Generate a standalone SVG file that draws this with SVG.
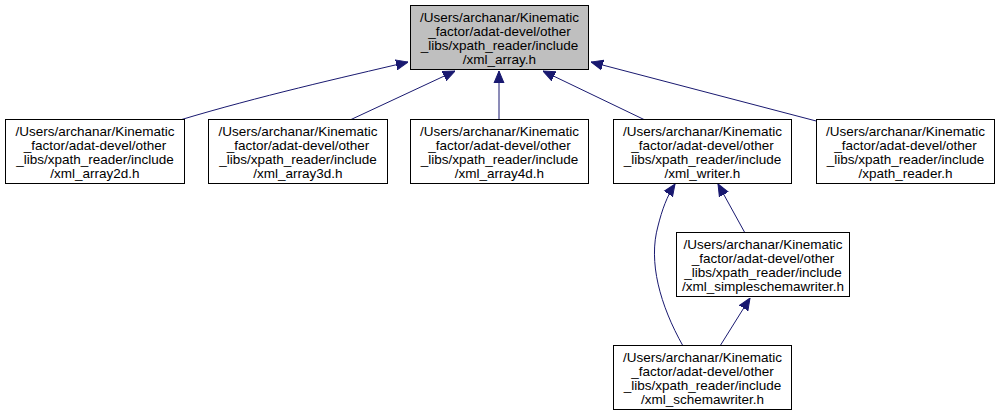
<svg xmlns="http://www.w3.org/2000/svg" width="1000" height="416" viewBox="0 0 1000 416">
<defs>
<marker id="ah" viewBox="0 0 12 12" refX="12" refY="6" markerWidth="12" markerHeight="12" markerUnits="userSpaceOnUse" orient="auto">
<path d="M0,1 L12,6 L0,11 Z" fill="#191970" stroke="#191970"/>
</marker>
<style>
.n rect{fill:#fff;stroke:#000;stroke-width:1}
.n.root rect{fill:#bfbfbf}
.n text{font-family:"Liberation Sans",Arial,sans-serif;font-size:13.5px;text-anchor:middle;fill:#000}
.e path{fill:none;stroke:#191970;stroke-width:1;marker-end:url(#ah)}
</style>
</defs>
<rect width="1000" height="416" fill="#fff"/>
<g class="e" id="edges">
<path d="M180,120 C260,96 340,78 408,62"/>
<path d="M350,120 L455,71"/>
<path d="M499,120 L499,71"/>
<path d="M645,120 L543,71"/>
<path d="M820,122 L591,62"/>
<path d="M745,233 L718,184"/>
<path d="M683,346 C660,305 648,262 658,226 C662,210 667,196 675,184"/>
<path d="M720,346 L750,298"/>
</g>
<g class="n root" id="xml_array">
<rect x="410.5" y="5.5" width="178" height="64"/>
<text x="499.5" y="22">/Users/archanar/Kinematic</text>
<text x="499.5" y="36">_factor/adat-devel/other</text>
<text x="499.5" y="50">_libs/xpath_reader/include</text>
<text x="499.5" y="64">/xml_array.h</text>
</g>
<g class="n" id="xml_array2d">
<rect x="5.5" y="119.5" width="179" height="64"/>
<text x="95" y="136">/Users/archanar/Kinematic</text>
<text x="95" y="150">_factor/adat-devel/other</text>
<text x="95" y="164">_libs/xpath_reader/include</text>
<text x="95" y="178">/xml_array2d.h</text>
</g>
<g class="n" id="xml_array3d">
<rect x="208.5" y="119.5" width="179" height="64"/>
<text x="298" y="136">/Users/archanar/Kinematic</text>
<text x="298" y="150">_factor/adat-devel/other</text>
<text x="298" y="164">_libs/xpath_reader/include</text>
<text x="298" y="178">/xml_array3d.h</text>
</g>
<g class="n" id="xml_array4d">
<rect x="410.5" y="119.5" width="178" height="64"/>
<text x="499.5" y="136">/Users/archanar/Kinematic</text>
<text x="499.5" y="150">_factor/adat-devel/other</text>
<text x="499.5" y="164">_libs/xpath_reader/include</text>
<text x="499.5" y="178">/xml_array4d.h</text>
</g>
<g class="n" id="xml_writer">
<rect x="613.5" y="119.5" width="178" height="64"/>
<text x="702.5" y="136">/Users/archanar/Kinematic</text>
<text x="702.5" y="150">_factor/adat-devel/other</text>
<text x="702.5" y="164">_libs/xpath_reader/include</text>
<text x="702.5" y="178">/xml_writer.h</text>
</g>
<g class="n" id="xpath_reader">
<rect x="816.5" y="119.5" width="178" height="64"/>
<text x="905.5" y="136">/Users/archanar/Kinematic</text>
<text x="905.5" y="150">_factor/adat-devel/other</text>
<text x="905.5" y="164">_libs/xpath_reader/include</text>
<text x="905.5" y="178">/xpath_reader.h</text>
</g>
<g class="n" id="xml_simpleschemawriter">
<rect x="676.5" y="232.5" width="173" height="64"/>
<text x="763" y="249">/Users/archanar/Kinematic</text>
<text x="763" y="263">_factor/adat-devel/other</text>
<text x="763" y="277">_libs/xpath_reader/include</text>
<text x="763" y="291">/xml_simpleschemawriter.h</text>
</g>
<g class="n" id="xml_schemawriter">
<rect x="613.5" y="345.5" width="178" height="64"/>
<text x="702.5" y="362">/Users/archanar/Kinematic</text>
<text x="702.5" y="376">_factor/adat-devel/other</text>
<text x="702.5" y="390">_libs/xpath_reader/include</text>
<text x="702.5" y="404">/xml_schemawriter.h</text>
</g>
</svg>
